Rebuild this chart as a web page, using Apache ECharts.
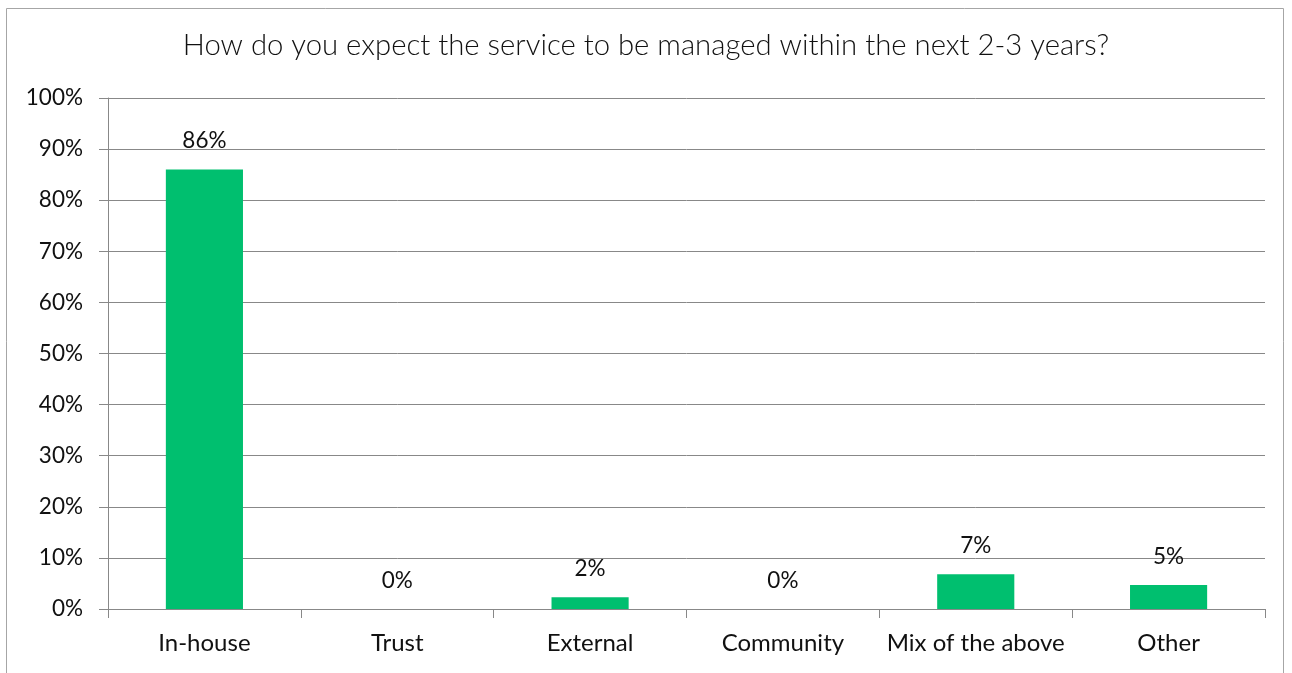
<!DOCTYPE html>
<html><head><meta charset="utf-8">
<script src="https://cdn.jsdelivr.net/npm/echarts@6/dist/echarts.min.js"></script>
<style>html,body{margin:0;padding:0;background:#fff}#c{width:1292px;height:673px}</style>
</head><body><div id="c"></div>
<script>
const titleText = 'How do you expect the service to be managed within the next 2-3 years?';
const categories = ['In-house', 'Trust', 'External', 'Community', 'Mix of the above', 'Other'];
const values = [86, 0, 2.3, 0, 6.8, 4.7];
const yTicks = [0, 10, 20, 30, 40, 50, 60, 70, 80, 90, 100];

const chart = echarts.init(document.getElementById('c'), null, {renderer: 'canvas'});
const font = 'Lato, "Open Sans", sans-serif';
chart.setOption({
  animation: false,
  backgroundColor: '#fff',
  graphic: [{type: 'rect', shape: {x: 6.5, y: 8.5, width: 1277, height: 700}, style: {fill: 'none', stroke: '#a6a6a6', lineWidth: 1}, silent: true}],
  title: {text: titleText, left: 'center', top: 26, textStyle: {fontFamily: font, fontWeight: 300, fontSize: 29.3, color: '#111'}},
  grid: {left: 108, right: 27, top: 98, bottom: 64, containLabel: false},
  xAxis: {
    type: 'category', data: categories,
    axisLine: {lineStyle: {color: '#888', width: 1}},
    axisTick: {show: true, length: 9, lineStyle: {color: '#888'}},
    axisLabel: {interval: 0, fontFamily: font, fontSize: 24, color: '#111', margin: 22}
  },
  yAxis: {
    type: 'value', min: 0, max: 100, interval: 10,
    axisLine: {show: true, lineStyle: {color: '#888'}},
    axisTick: {show: true, length: 9, lineStyle: {color: '#888'}},
    axisLabel: {fontFamily: font, fontSize: 22.5, color: '#111', margin: 25,
      formatter: v => yTicks.includes(v) ? v + '%' : ''},
    splitLine: {show: true, lineStyle: {color: '#888', width: 1}}
  },
  series: [{
    type: 'bar', data: values, barWidth: '40%',
    itemStyle: {color: '#00BF6F'},
    label: {show: true, position: 'top', distance: 17, fontFamily: font, fontSize: 22.5, color: '#111',
      formatter: p => Math.round(p.value) + '%'}
  }]
});
</script></body></html>
